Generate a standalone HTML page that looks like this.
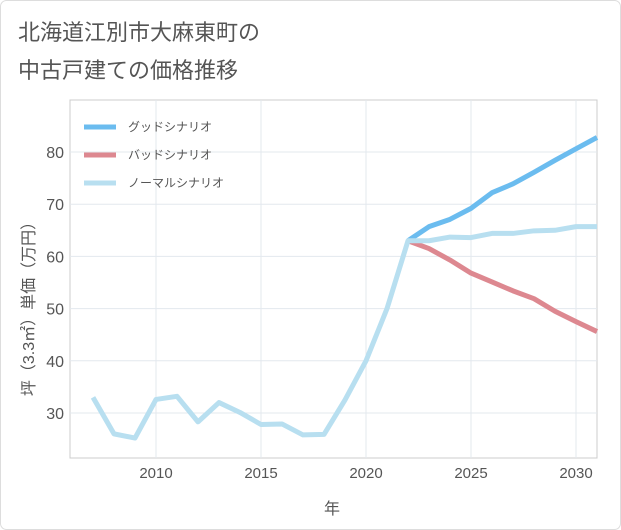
<!DOCTYPE html>
<html><head><meta charset="utf-8"><style>
body{margin:0;background:#fff;}
svg{display:block;font-family:"Liberation Sans","Noto Sans CJK JP",sans-serif;}
</style></head><body>
<svg id="chart" width="621" height="530">
<rect x="0.5" y="0.5" width="620" height="529" rx="6" fill="#fff" stroke="#ddd"/>
<text x="18" y="40" font-size="22" fill="#555">北海道江別市大麻東町の</text>
<text x="18" y="78" font-size="22" fill="#555">中古戸建ての価格推移</text>
<rect x="70" y="100" width="527" height="358" fill="#fff" stroke="#ccc"/>
<g id="grid"></g>
<g id="lines"></g>
<text x="332" y="514" font-size="16" fill="#555" text-anchor="middle">年</text>
<text transform="translate(34,305) rotate(-90)" font-size="16" fill="#555" text-anchor="middle">坪（3.3㎡）単価（万円）</text>
<g>
<line x1="84" y1="127" x2="116" y2="127" stroke="#6bbcef" stroke-width="5"/>
<text x="128" y="131" font-size="12" fill="#555">グッドシナリオ</text>
<line x1="84" y1="155" x2="116" y2="155" stroke="#dd8890" stroke-width="5"/>
<text x="128" y="159" font-size="12" fill="#555">バッドシナリオ</text>
<line x1="84" y1="183" x2="116" y2="183" stroke="#b8dff0" stroke-width="5"/>
<text x="128" y="187" font-size="12" fill="#555">ノーマルシナリオ</text>
</g>
</svg>
<script>
const normalYears=[2007,2008,2009,2010,2011,2012,2013,2014,2015,2016,2017,2018,2019,2020,2021,2022,2023,2024,2025,2026,2027,2028,2029,2030,2031];
const normalValues=[33,26,25.2,32.6,33.2,28.3,32,30.1,27.8,27.9,25.8,25.9,32.5,40,50,63,63,63.7,63.6,64.4,64.4,64.9,65,65.7,65.7];
const scenarioYears=[2022,2023,2024,2025,2026,2027,2028,2029,2030,2031];
const goodValues=[63,65.7,67.1,69.2,72.2,73.9,76.1,78.4,80.6,82.8];
const badValues=[63,61.5,59.3,56.8,55.1,53.4,51.9,49.5,47.5,45.6];
const xTicks=[2010,2015,2020,2025,2030];
const yTicks=[30,40,50,60,70,80];
const NS="http://www.w3.org/2000/svg";
function xs(y){return 156+(y-2010)*21;}
function ys(v){return 413-(v-30)*5.22;}
const grid=document.getElementById('grid'),lines=document.getElementById('lines');
xTicks.forEach(t=>{
 const l=document.createElementNS(NS,'line');
 
 
 l.setAttribute('x1',xs(t));l.setAttribute('x2',xs(t));l.setAttribute('y1',100);l.setAttribute('y2',458);
 l.setAttribute('stroke','#e3e8ee');grid.appendChild(l);
 const tx=document.createElementNS(NS,'text');
 
 
 tx.setAttribute('x',xs(t));tx.setAttribute('y',478);tx.setAttribute('text-anchor','middle');
 tx.setAttribute('font-size','15');tx.setAttribute('fill','#555');tx.textContent=t;grid.appendChild(tx);
});
yTicks.forEach(t=>{
 const l=document.createElementNS(NS,'line');
 
 
 l.setAttribute('x1',70);l.setAttribute('x2',597);l.setAttribute('y1',ys(t));l.setAttribute('y2',ys(t));
 l.setAttribute('stroke','#e3e8ee');grid.appendChild(l);
 const tx=document.createElementNS(NS,'text');
 
 
 tx.setAttribute('x',64);tx.setAttribute('y',ys(t)+6);tx.setAttribute('text-anchor','end');
 tx.setAttribute('font-size','16');tx.setAttribute('fill','#555');tx.textContent=t;grid.appendChild(tx);
});
function draw(years,vals,color,name){
 const p=document.createElementNS(NS,'polyline');
 
 
 p.setAttribute('points',years.map((y,i)=>xs(y)+','+ys(vals[i])).join(' '));
 p.setAttribute('fill','none');p.setAttribute('stroke',color);p.setAttribute('stroke-width','5');
 p.setAttribute('stroke-linejoin','round');lines.appendChild(p);
}
draw(scenarioYears,goodValues,'#6bbcef','good-scenario-line');
draw(scenarioYears,badValues,'#dd8890','bad-scenario-line');
draw(normalYears,normalValues,'#b8dff0','normal-scenario-line');
</script>
</body></html>
